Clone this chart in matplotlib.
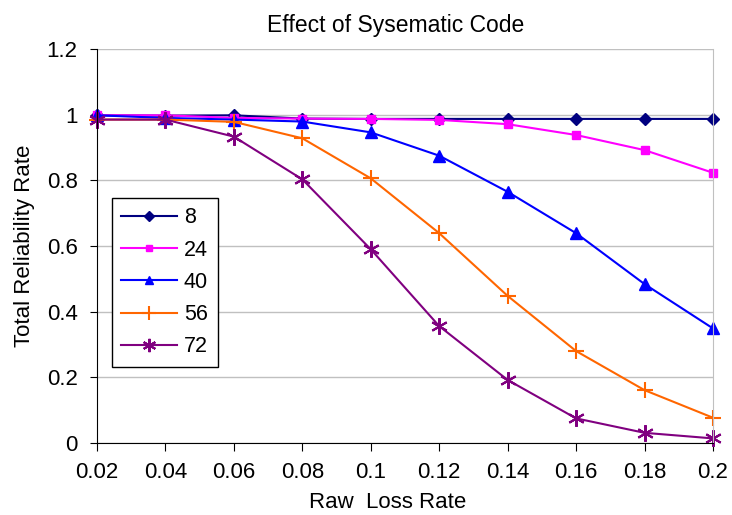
import matplotlib
matplotlib.use("Agg")
import matplotlib.pyplot as plt

plt.rcParams['font.family'] = ['Liberation Sans', 'DejaVu Sans']

loss_rate = [0.02, 0.04, 0.06, 0.08, 0.1, 0.12, 0.14, 0.16, 0.18, 0.2]
rel_8 = [0.998, 0.997, 0.998, 0.988, 0.987, 0.987, 0.987, 0.987, 0.987, 0.987]
rel_24 = [0.998, 0.998, 0.99, 0.988, 0.987, 0.984, 0.971, 0.938, 0.892, 0.823]
rel_40 = [0.998, 0.99, 0.985, 0.979, 0.946, 0.875, 0.765, 0.639, 0.484, 0.349]
rel_56 = [0.985, 0.985, 0.978, 0.928, 0.806, 0.639, 0.448, 0.280, 0.161, 0.077]
rel_72 = [0.985, 0.985, 0.933, 0.803, 0.590, 0.356, 0.192, 0.075, 0.031, 0.014]
labels = ["8", "24", "40", "56", "72"]

fig = plt.figure(figsize=(7.32, 5.15), dpi=100)
ax = fig.add_axes([0.1325, 0.1398, 0.8415, 0.7651])

ax.plot(loss_rate, rel_8, color="#000080", marker="D", markersize=6, lw=1.5, clip_on=False, label=labels[0])
ax.plot(loss_rate, rel_24, color="#FF00FF", marker="s", markersize=6, lw=1.5, clip_on=False, label=labels[1])
ax.plot(loss_rate, rel_40, color="#0000FF", marker="^", markersize=8, lw=1.5, clip_on=False, label=labels[2])
ax.plot(loss_rate, rel_56, color="#FF6600", marker="+", markersize=12, mew=1.5, lw=1.5, clip_on=False, label=labels[3])
ax.plot(loss_rate, rel_72, color="#800080", marker=(6, 2, 0), markersize=12, mew=1.5, lw=1.5, clip_on=False, label=labels[4])

ax.set_xlim(0.02, 0.2)
ax.set_ylim(0, 1.2)
ax.set_xticks(loss_rate)
ax.set_xticklabels(["0.02", "0.04", "0.06", "0.08", "0.1", "0.12", "0.14", "0.16", "0.18", "0.2"])
ax.set_yticks([0, 0.2, 0.4, 0.6, 0.8, 1, 1.2])
ax.set_yticklabels(["0", "0.2", "0.4", "0.6", "0.8", "1", "1.2"])
ax.tick_params(labelsize=16, direction="out", length=5, colors="black")
ax.tick_params(axis="x", length=6, pad=8)
ax.tick_params(axis="y", pad=9)
ax.yaxis.grid(True, color="#c0c0c0", lw=1)
ax.spines["top"].set_visible(False)
ax.spines["right"].set_color("#c0c0c0")
ax.set_axisbelow(True)

ax.set_title("Effect of Sysematic Code", fontsize=16.5, pad=12, x=0.485)
ax.set_xlabel("Raw  Loss Rate", fontsize=16, labelpad=6, x=0.472)
ax.set_ylabel("Total Reliability Rate", fontsize=16, labelpad=8)

leg = ax.legend(loc="lower left", bbox_to_anchor=(0.024, 0.193), fontsize=15.5, fancybox=False,
                framealpha=1, edgecolor="black", handlelength=2.6, handletextpad=0.3,
                labelspacing=0.52, borderpad=0.45, borderaxespad=0, markerscale=0.8)
leg.get_frame().set_linewidth(1)

fig.savefig("out.png", dpi=100)
